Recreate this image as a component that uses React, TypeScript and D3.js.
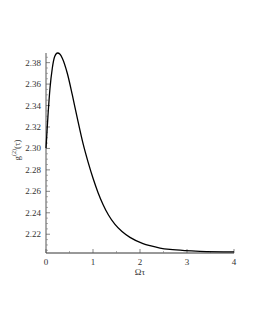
import React from "react";
import * as d3 from "d3";

const tauValues = [0, 0.0426, 0.0851, 0.134, 0.185, 0.245, 0.298, 0.347, 0.453, 0.56, 0.666, 0.794, 0.894, 1.006, 1.106, 1.213, 1.326, 1.468, 1.617, 1.787, 2.064, 2.213, 2.426, 2.638, 2.957, 3.277, 4];
const g2Values = [2.3003, 2.331, 2.3561, 2.3748, 2.3857, 2.389, 2.3878, 2.3841, 2.3701, 2.3499, 2.3282, 2.3035, 2.2875, 2.2715, 2.259, 2.2478, 2.2382, 2.2292, 2.2225, 2.2171, 2.2113, 2.2093, 2.2071, 2.2058, 2.2047, 2.2041, 2.2036];
const xTicks = [0, 1, 2, 3, 4];
const xMinor = [0.5, 1.5, 2.5, 3.5];
const yTicks = [2.22, 2.24, 2.26, 2.28, 2.3, 2.32, 2.34, 2.36, 2.38];

export default function App() {
  const x = d3.scaleLinear().domain([0, 4]).range([46, 234]);
  const y = d3.scaleLinear().domain([2.2025, 2.389]).range([253, 53]);
  const yMinor = d3.range(2.205, 2.388, 0.005).filter(v => !yTicks.some(t => Math.abs(t - v) < 1e-6));
  const pts = tauValues.map((t, i) => [t, g2Values[i]] as [number, number]);
  const line = d3.line<[number, number]>().x(d => x(d[0])).y(d => y(d[1])).curve(d3.curveMonotoneX);
  const font = "Liberation Serif, Times New Roman, DejaVu Serif, serif";
  return (
    <svg width={255} height={330} style={{ position: "absolute", left: 0, top: 0, background: "#fff" }}>
      <line x1={46} x2={234} y1={253} y2={253} stroke="#333" strokeWidth={1} />
      <line x1={46} x2={46} y1={253} y2={53} stroke="#555" strokeWidth={1} />
      {xTicks.map(t => (
        <g key={"xt" + t}>
          <line x1={x(t)} x2={x(t)} y1={253} y2={249} stroke="#555" strokeWidth={0.7} />
          <text x={x(t)} y={265} fontSize={9} fontFamily={font} textAnchor="middle" fill="#333">{t}</text>
        </g>
      ))}
      {xMinor.map(t => (
        <line key={"xm" + t} x1={x(t)} x2={x(t)} y1={253} y2={251} stroke="#777" strokeWidth={0.6} />
      ))}
      {yTicks.map(t => (
        <g key={"yt" + t}>
          <line x1={46} x2={50} y1={y(t)} y2={y(t)} stroke="#555" strokeWidth={0.7} />
          <text x={41} y={y(t) + 3} fontSize={9} fontFamily={font} textAnchor="end" fill="#333">{t.toFixed(2)}</text>
        </g>
      ))}
      {yMinor.map(t => (
        <line key={"ym" + t} x1={46} x2={48} y1={y(t)} y2={y(t)} stroke="#777" strokeWidth={0.6} />
      ))}
      <path d={line(pts) || ""} fill="none" stroke="#000" strokeWidth={1.3} />
      <text x={140} y={275} fontSize={9} fontFamily={font} textAnchor="middle" fill="#333">Ωτ</text>
      <text transform="translate(20,150) rotate(-90)" fontSize={9} fontFamily={font} textAnchor="middle" fill="#333">
        g<tspan dy={-4} fontSize={6}>(2)</tspan><tspan dy={4}>(τ)</tspan>
      </text>
    </svg>
  );
}
